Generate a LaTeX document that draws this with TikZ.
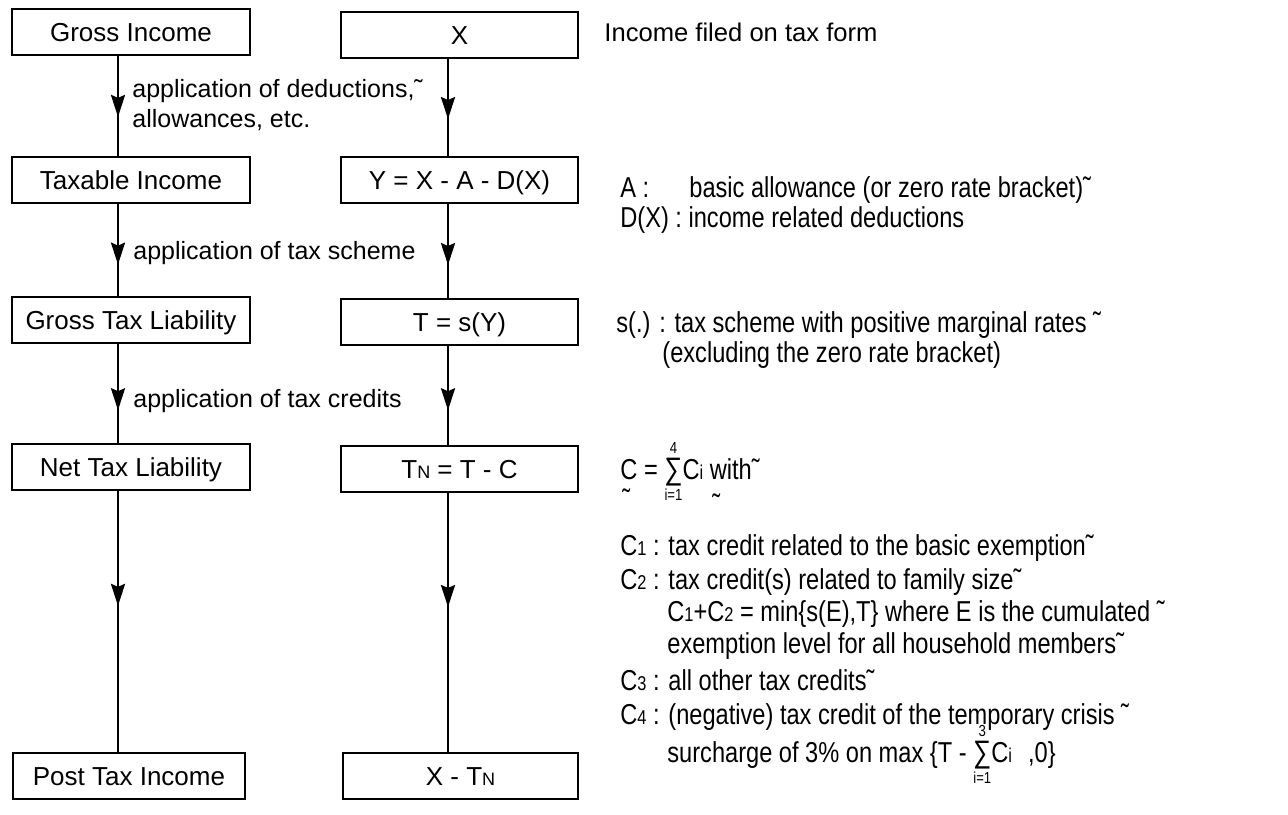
\documentclass[tikz,border=0pt]{standalone}
\usepackage{fontspec}
\setmainfont{Liberation Sans}
\newfontfamily\narrowf[FakeStretch=0.82]{Liberation Sans}
\usetikzlibrary{arrows.meta,decorations.markings}
\newcommand\smx[1]{{\fontsize{9}{10}\selectfont #1}}
\newcommand\smn[1]{{\fontsize{10}{11}\selectfont #1}}
\newcommand\ssum[2]{\ensuremath{\mathop{\hbox{\fontsize{15.5}{16}\selectfont ∑}}\limits^{\hbox{\fontsize{8}{8}\selectfont #1}}_{\hbox{\fontsize{8}{8}\selectfont #2}}}}
\begin{document}
\begin{tikzpicture}[x=0.5pt,y=-0.5pt,
  box/.style={draw, line width=1.3pt, inner sep=0pt, font=\fontsize{13}{15}\selectfont,
    text height=9.3pt, text depth=0pt, minimum height=23pt},
  boxL/.style={box, minimum width=119pt},
  boxM/.style={box, minimum width=118.5pt},
  arr/.style={line width=1.3pt, postaction={decorate},
    decoration={markings, mark=at position #1 with {\arrow{Stealth[length=11pt,width=7pt,inset=1.5pt]}}}},
  lbl/.style={anchor=base west, inner sep=0pt, font=\fontsize{12.5}{15}\selectfont},
  note/.style={anchor=base west, inner sep=0pt, font=\narrowf\fontsize{14.4}{16}\selectfont},
]
\useasboundingbox (0,0) rectangle (1288,814);

% left column
\node[boxL] (gi)  at (131,32)  {Gross Income};
\node[boxL] (ti)  at (131,180) {Taxable Income};
\node[boxL] (gtl) at (131,320) {Gross Tax Liability};
\node[boxL] (ntl) at (131,467) {Net Tax Liability};
\node[box, minimum width=116pt] (pti) at (129,776) {Post Tax Income};

% middle column
\node[boxM] (x)  at (459.5,35)  {X};
\node[boxM] (y)  at (459.5,180) {Y = X - A - D(X)};
\node[boxM] (t)  at (459.5,322) {T = s(Y)};
\node[boxM] (tn) at (459.5,469) {T\smx{N} = T - C};
\node[box, minimum width=117.5pt] (xtn) at (460.5,776) {X - T\smx{N}};

\coordinate (colL) at (118,0);
\coordinate (colM) at (448,0);

\draw[arr=0.61] (gi.south -| colL) -- (ti.north -| colL);
\draw[arr=0.66] (ti.south -| colL) -- (gtl.north -| colL);
\draw[arr=0.67] (gtl.south -| colL) -- (ntl.north -| colL);
\draw[arr=0.44] (ntl.south -| colL) -- (pti.north -| colL);

\draw[arr=0.62] (x.south -| colM) -- (y.north -| colM);
\draw[arr=0.65] (y.south -| colM) -- (t.north -| colM);
\draw[arr=0.65] (t.south -| colM) -- (tn.north -| colM);
\draw[arr=0.44] (tn.south -| colM) -- (xtn.north -| colM);

% arrow labels
\node[lbl] (l1a) at (132,97)  {application of deductions,˜};
\node[lbl] (l1b) at (132,127) {allowances, etc.};
\node[lbl] (l2)  at (133,259) {application of tax scheme};
\node[lbl] (l3)  at (133,407) {application of tax credits};

% right notes
\node[anchor=base west, inner sep=0pt, font=\fontsize{12.8}{15}\selectfont] (n0) at (604,41) {Income filed on tax form};
\node[note] (na)  at (620,197) {A :};
\node[note] (na2) at (689,197) {basic allowance (or zero rate bracket)˜};
\node[note] (nd)  at (620,227) {D(X) : income related deductions};
\node[note] (ns)  at (616,332) {s(.) : tax scheme with positive marginal rates ˜};
\node[note] (ns2) at (662,362) {(excluding the zero rate bracket)};
\node[note] (nc)  at (620,479) {C = \ssum{4}{i=1}C\smn{i} with˜};
\node[note] (nct1) at (622,509) {˜};
\node[note] (nct2) at (712,514) {˜};
\node[note] (nc1) at (620,555) {C\smn{1} : tax credit related to the basic exemption˜};
\node[note] (nc2) at (620,589) {C\smn{2} : tax credit(s) related to family size˜};
\node[note] (nc12) at (667,621) {C\smn{1}+C\smn{2} = min\{s(E),T\} where E is the cumulated ˜};
\node[note] (nex) at (667,653) {exemption level for all household members˜};
\node[note] (nc3) at (620,690) {C\smn{3} : all other tax credits˜};
\node[note] (nc4) at (620,724) {C\smn{4} : (negative) tax credit of the temporary crisis ˜};
\node[note] (nsur) at (667,762) {surcharge of 3\% on max \{T - \ssum{3}{i=1}C\smn{i}\hspace{8pt},0\}};
\end{tikzpicture}
\end{document}
